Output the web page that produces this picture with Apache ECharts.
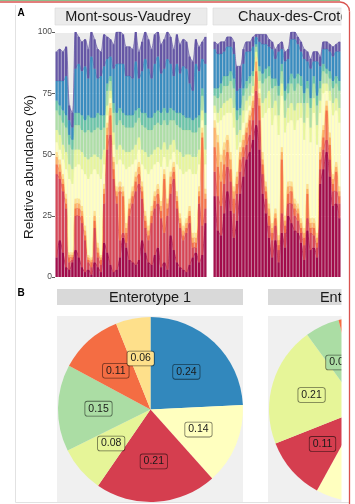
<!DOCTYPE html>
<html>
<head>
<meta charset="utf-8">
<script src="https://cdn.jsdelivr.net/npm/echarts@6/dist/echarts.min.js"></script>
<style>
  html, body { margin: 0; padding: 0; background: #fff; }
  #chart { width: 355px; height: 504px; }
</style>
</head>
<body>
<div id="chart"></div>
<script>
const FONT = "'Liberation Sans', Arial, sans-serif"

// Spectral palette, bottom layer first
const layerColors = ['#9E0142', '#D53E4F', '#F46D43', '#FDAE61', '#FEE08B', '#FFFFBF',
  '#E6F598', '#ABDDA4', '#66C2A5', '#3288BD', '#5E4FA2']

// Mont-sous-Vaudrey samples (relative abundance, %)
const mvMaroon = [8,15,10,4,3,6,11,8,4,2,3,1,6,4,2,14,10,5,2,3,8,16,12,7,6,5,7,15,10,6,5,9,12,4,6,3,17,11,6,4,3,2,5,8,10,6,9,22]
const mvRed    = [34,25,25,24,3,1,14,17,18,13,3,3,14,4,3,16,42,53,38,27,7,2,2,18,24,30,31,17,10,9,17,19,18,20,12,22,17,29,22,16,12,16,17,4,2,24,12,6]
const mvOrange = [4,3,3,2,2,1,3,3,3,2,1,2,3,2,2,4,6,8,4,3,20,15,4,3,3,4,4,3,3,2,3,3,4,3,22,3,4,3,3,2,2,2,3,2,2,3,36,4]
const mvApricot = [3,3,2,2,1,1,2,2,2,2,1,1,2,2,1,2,3,3,3,2,2,2,2,2,2,2,3,2,2,2,2,2,2,2,2,2,3,2,2,2,2,2,2,2,2,2,2,2]
const mvGold   = [2,2,2,2,1,1,2,2,2,2,1,1,2,2,1,2,2,2,2,2,2,2,2,2,2,2,2,2,2,2,2,2,2,2,2,2,2,2,2,2,2,2,2,2,2,2,2,2]
const mvCream  = [4,4,6,10,30,28,13,14,15,21,31,34,17,28,31,8,3,2,5,9,9,9,22,13,9,5,5,7,17,21,15,11,9,14,5,13,5,4,11,18,21,19,15,24,24,9,3,10]
const mvLime   = [5,6,6,7,6,6,7,6,7,7,8,7,6,7,8,6,4,3,5,6,6,6,7,6,6,6,5,6,7,7,6,6,6,7,6,7,6,5,6,7,7,7,6,7,7,6,4,6]
const mvMint   = [8,8,9,10,8,8,10,10,9,10,12,10,10,12,12,9,6,4,8,10,10,10,10,10,9,9,8,10,10,11,10,10,10,10,9,10,10,8,10,10,11,10,10,10,10,9,6,10]
const mvTeal   = [4,4,5,5,4,4,5,5,6,5,6,6,5,6,6,5,3,2,4,5,5,5,5,5,5,5,4,5,6,5,5,5,5,5,5,5,5,4,5,6,6,5,5,5,6,5,3,5]
const mvBlue   = [8,10,12,16,6,5,18,20,18,22,15,25,20,14,16,20,10,8,14,20,18,20,16,16,15,20,12,17,22,20,16,20,22,16,16,22,18,14,20,16,20,20,14,12,22,18,12,20]
const mvPurple = [12,13,12,12,6,6,15,11,12,11,12,10,12,12,10,13,9,7,10,13,13,12,12,12,12,12,11,12,11,12,12,12,10,12,12,11,11,11,12,12,11,11,11,12,10,10,7,11]

// Chaux-des-Crotenay samples (relative abundance, %)
const cdMaroon = [33,19,17,26,35,27,16,23,34,41,48,51,56,62,52,34,26,16,8,15,6,18,12,25,22,19,18,14,7,19,11,12,8,38,44,51,41,29,30,24]
const cdRed    = [10,14,12,12,10,12,10,11,9,8,6,7,8,14,12,8,6,5,7,6,5,8,6,5,8,6,5,4,6,5,7,5,4,6,8,5,7,6,5,6]
const cdOrange = [10,12,10,8,6,5,6,4,5,4,5,6,5,8,6,4,3,4,3,3,2,22,3,4,5,3,3,2,3,10,2,3,2,4,5,12,6,3,8,3]
const cdApricot = [8,10,8,6,5,4,3,3,3,3,2,2,3,4,3,2,2,3,2,2,2,3,2,3,2,2,2,2,2,2,2,2,2,3,3,2,3,2,2,2]
const cdGold   = [3,3,3,3,2,3,2,2,2,2,2,2,2,2,2,3,2,2,2,2,2,2,2,2,2,2,2,2,2,2,2,2,2,2,2,2,2,2,2,2]
const cdCream  = [3,5,14,11,9,16,24,9,2,5,5,2,1,0,2,14,28,39,40,38,41,21,34,24,25,28,34,41,36,27,31,43,36,14,13,4,13,24,21,26]
const cdLime   = [3,4,5,5,5,6,8,6,5,5,4,4,3,2,3,6,6,7,7,6,8,5,6,6,7,8,7,6,7,6,6,6,8,5,4,3,4,5,5,6]
const cdMint   = [4,6,6,7,6,7,8,6,6,6,5,5,4,2,4,8,8,6,8,6,8,5,7,6,8,8,8,7,8,6,8,6,8,5,5,4,5,6,6,7]
const cdTeal   = [3,4,4,4,4,4,4,4,3,3,3,3,2,1,2,4,4,4,4,3,4,3,4,4,4,5,4,4,4,3,4,3,4,3,3,2,3,3,3,4]
const cdBlue   = [16,14,12,10,12,10,10,8,8,10,12,10,10,3,10,12,10,8,12,8,14,6,12,10,14,16,12,10,14,8,12,6,14,6,6,8,8,10,10,12]
const cdPurple = [3,4,5,4,4,4,5,10,9,6,4,4,4,1,3,4,4,3,3,4,3,3,4,4,3,3,3,4,4,4,4,4,4,4,3,3,3,4,3,4]

// Enterotype proportions
const pieColors = ['#3288BD', '#FFFFBF', '#D53E4F', '#E6F598', '#ABDDA4', '#F46D43', '#FEE08B']
const entero1 = [0.24, 0.14, 0.21, 0.08, 0.15, 0.11, 0.06]
const entero2 = [0.27, 0.31, 0.11, 0.21, 0.06, 0.02, 0.02]

const mvLayers = [mvMaroon, mvRed, mvOrange, mvApricot, mvGold, mvCream, mvLime, mvMint, mvTeal, mvBlue, mvPurple]
const cdLayers = [cdMaroon, cdRed, cdOrange, cdApricot, cdGold, cdCream, cdLime, cdMint, cdTeal, cdBlue, cdPurple]

const chart = echarts.init(document.getElementById('chart'))

const series = []
;[mvLayers, cdLayers].forEach((layers, f) => {
  layers.forEach((vals, k) => {
    // soft band between the bars
    series.push({
      type: 'line',
      xAxisIndex: f,
      yAxisIndex: f,
      stack: 'area' + f,
      data: vals,
      symbol: 'none',
      smooth: 0.3,
      silent: true,
      lineStyle: { color: layerColors[k], width: 0.8, opacity: 0.8 },
      areaStyle: { color: layerColors[k], opacity: 0.45 },
      z: 2,
    })
    series.push({
      type: 'bar',
      xAxisIndex: f,
      yAxisIndex: f,
      stack: 'bar' + f,
      data: vals,
      silent: true,
      barCategoryGap: '32%',
      itemStyle: { color: layerColors[k], opacity: 0.92 },
      z: 3,
    })
  })
})

// filled slices
const pieSeries = (center, vals) => ({
  type: 'pie',
  center: center,
  radius: 92.5,
  startAngle: 90,
  silent: true,
  label: { show: false },
  labelLine: { show: false },
  data: vals.map((v, i) => ({ value: v, itemStyle: { color: pieColors[i] } })),
  z: 3,
})

// transparent twin, only carries the value boxes at mid-radius
const pieLabels = (center, vals) => ({
  type: 'pie',
  center: center,
  radius: 98,
  startAngle: 90,
  silent: true,
  avoidLabelOverlap: false,
  minShowLabelAngle: 10,
  labelLayout: { hideOverlap: false },
  itemStyle: { color: 'rgba(0,0,0,0)' },
  label: {
    show: true,
    position: 'inside',
    formatter: (p) => p.value.toFixed(2),
    fontFamily: FONT,
    fontSize: 10.5,
    color: '#1a1a1a',
    borderColor: 'rgba(0,0,0,0.55)',
    borderWidth: 0.8,
    borderRadius: 2,
    padding: [2, 3, 1, 3],
  },
  labelLine: { show: false },
  data: vals.map((v, i) => ({ value: v, label: { backgroundColor: pieColors[i] } })),
  z: 4,
})

series.push(pieSeries([150.5, 409.5], entero1))
series.push(pieSeries([361.5, 409.5], entero2))
series.push(pieLabels([150.5, 409.5], entero1))
series.push(pieLabels([361.5, 409.5], entero2))

const catAxis = (n, idx) => ({
  type: 'category',
  gridIndex: idx,
  data: Array.from({ length: n }, (_, i) => 'S' + (i + 1)),
  axisLine: { show: false },
  axisTick: { show: false },
  axisLabel: { show: false },
})

const valAxis = (idx, showLabels) => ({
  type: 'value',
  gridIndex: idx,
  min: 0,
  max: 100,
  interval: 25,
  axisLine: { show: false },
  axisTick: { show: showLabels, length: 3, lineStyle: { color: '#333', width: 0.8 } },
  axisLabel: { show: showLabels, fontFamily: FONT, fontSize: 8.5, color: '#4D4D4D', margin: 3 },
  splitLine: { show: true, lineStyle: { color: '#fff', width: 1 } },
})

const txt = (text, x, y, opts) => ({
  type: 'text',
  x: x,
  y: y,
  silent: true,
  z: (opts && opts.z) || 5,
  rotation: (opts && opts.rotation) || 0,
  style: Object.assign({
    text: text,
    fontFamily: FONT,
    fontSize: 14.5,
    fill: '#1A1A1A',
    textAlign: 'center',
    verticalAlign: 'middle',
  }, opts && opts.style),
})

const rect = (x, y, w, h, fill, z, stroke) => ({
  type: 'rect',
  silent: true,
  z: z || 0,
  shape: { x: x, y: y, width: w, height: h },
  style: { fill: fill, stroke: stroke || null, lineWidth: stroke ? 0.6 : 0 },
})

const frameLine = (pts, color, width, z) => ({
  type: 'polyline',
  silent: true,
  z: z,
  shape: { points: pts },
  style: { stroke: color, lineWidth: width, fill: null },
})

chart.setOption({
  animation: false,
  backgroundColor: '#fff',
  grid: [
    { left: 55, top: 32, width: 152, height: 245, show: true, backgroundColor: '#EBEBEB', borderWidth: 0 },
    { left: 213, top: 32, width: 128, height: 245, show: true, backgroundColor: '#EBEBEB', borderWidth: 0 },
  ],
  xAxis: [catAxis(mvMaroon.length, 0), catAxis(cdMaroon.length, 1)],
  yAxis: [valAxis(0, true), valAxis(1, false)],
  series: series,
  graphic: [
    // panel A strips
    rect(55, 8, 152, 17, '#EBEBEB', 1, '#D6D6D6'),
    rect(213, 8, 140, 17, '#EBEBEB', 1, '#D6D6D6'),
    txt('Mont-sous-Vaudrey', 128, 17),
    txt('Chaux-des-Crotenay', 238, 17, { style: { textAlign: 'left' } }),
    txt('Relative abundance (%)', 29, 167, { rotation: Math.PI / 2, style: { fontSize: 13.5 } }),
    txt('A', 21, 13, { style: { fontSize: 10, fontWeight: 'bold', fill: '#000' } }),
    txt('B', 21, 293, { style: { fontSize: 10, fontWeight: 'bold', fill: '#000' } }),
    // panel B strips and backgrounds
    rect(57, 289, 186, 16, '#D9D9D9', 1),
    rect(268, 289, 100, 16, '#D9D9D9', 1),
    txt('Enterotype 1', 150, 297.5),
    txt('Enterotype 2', 361, 297.5),
    rect(57, 316, 186, 187, '#F0F0F0', 0),
    rect(268, 316, 100, 187, '#F0F0F0', 0),
    // crop edge and frame
    rect(341.5, 0, 14, 504, '#fff', 100),
    frameLine([[15.5, 5], [15.5, 502.5], [349, 502.5]], '#E2E2E2', 1, 101),
    frameLine([[0, 0.5], [340, 0.5]], '#8DBF8B', 1, 101),
    frameLine([[0, 2], [340, 2]], '#D9534F', 1.3, 102),
    frameLine([[349.5, 11.5], [349.5, 504]], '#D9534F', 1.3, 102),
    {
      type: 'arc', silent: true, z: 102,
      shape: { cx: 340, cy: 11.5, r: 9.5, startAngle: -Math.PI / 2, endAngle: 0, clockwise: true },
      style: { stroke: '#D9534F', lineWidth: 1.3, fill: null },
    },
  ],
})
</script>
</body>
</html>
